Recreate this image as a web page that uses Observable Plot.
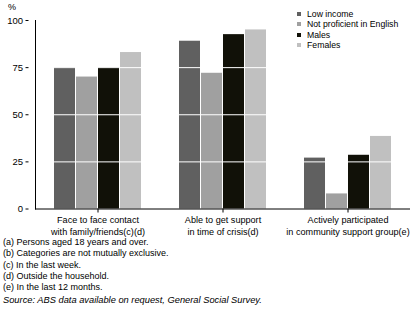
<!DOCTYPE html>
<html><head><meta charset="utf-8">
<script src="https://cdn.jsdelivr.net/npm/d3@7"></script>
<script src="https://cdn.jsdelivr.net/npm/@observablehq/plot@0.6"></script>
<style>
body{margin:0;background:#fff;font-family:"Liberation Sans",Arial,sans-serif;}
#wrap{position:relative;width:416px;height:321px;overflow:hidden;}
#chart{position:absolute;left:0;top:0;}
#pct{position:absolute;left:8px;top:2px;font-size:9px;}
#legend{position:absolute;left:297px;top:9px;font-size:8.7px;line-height:10.3px;}
#legend .sw{display:inline-block;width:4px;height:4px;margin-right:6px;vertical-align:1px;}
#notes{position:absolute;left:3px;top:237px;font-size:9px;line-height:11.3px;}
#source{font-style:italic;margin-top:1.5px;font-size:9.3px;}
</style></head>
<body><div id="wrap"><div id="chart"></div><div id="pct">%</div><div id="legend"></div><div id="notes"></div></div>
<script>
const categories = ["Face to face contact\nwith family/friends(c)(d)", "Able to get support\nin time of crisis(d)", "Actively participated\nin community support group(e)"];
const series = ["Low income", "Not proficient in English", "Males", "Females"];
const lowIncome = [75, 89, 27];
const notProficient = [70, 72, 8];
const males = [75, 92.5, 28.5];
const females = [83, 95, 38.5];
const colors = ["#606060", "#a0a0a0", "#111108", "#c0c0c0"];
const yTicks = [0, 25, 50, 75, 100];
const footnotes = ["(a) Persons aged 18 years and over.", "(b) Categories are not mutually exclusive.", "(c) In the last week.", "(d) Outside the household.", "(e) In the last 12 months."];
const sourceText = "Source: ABS data available on request, General Social Survey.";

const valuesBySeries = [lowIncome, notProficient, males, females];
const data = [];
categories.forEach((c, i) => series.forEach((s, j) => data.push({category: c, series: s, value: valuesBySeries[j][i]})));

const chart = Plot.plot({
  width: 416, height: 240,
  marginLeft: 28, marginRight: 0, marginTop: 20, marginBottom: 31.5,
  style: {fontFamily: '"Liberation Sans", Arial, sans-serif', fontSize: "9px", color: "#000"},
  fx: {domain: categories, paddingInner: 0, paddingOuter: 0.052, label: null},
  x: {domain: series, paddingInner: 0.05, paddingOuter: 0.86, axis: null},
  y: {domain: [0, 100], label: null},
  color: {domain: series, range: colors},
  marks: [
    Plot.barY(data, {fx: "category", x: "series", y: "value", fill: "series"}),
    Plot.ruleY([25, 50, 75], {stroke: "white", strokeWidth: 1}),
    Plot.ruleY([0], {stroke: "black", strokeWidth: 1}),
    Plot.axisY({ticks: yTicks, tickSize: 3, tickPadding: 3, tickFormat: d => d, label: null, fontSize: "9.5px", dx: -6.5}),
    Plot.frame({anchor: "left", facet: "super", stroke: "black"}),
    Plot.axisFx({anchor: "bottom", tickSize: 4, tickPadding: 2, lineHeight: 1.3, label: null, fontSize: "9.1px"})
  ]
});
document.getElementById("chart").appendChild(chart);

document.getElementById("legend").innerHTML = series.map((s, i) =>
  `<div><span class="sw" style="background:${colors[i]}"></span>${s}</div>`).join("");
document.getElementById("notes").innerHTML = footnotes.map(f => `<div>${f}</div>`).join("") +
  `<div id="source">${sourceText}</div>`;
</script></body></html>
